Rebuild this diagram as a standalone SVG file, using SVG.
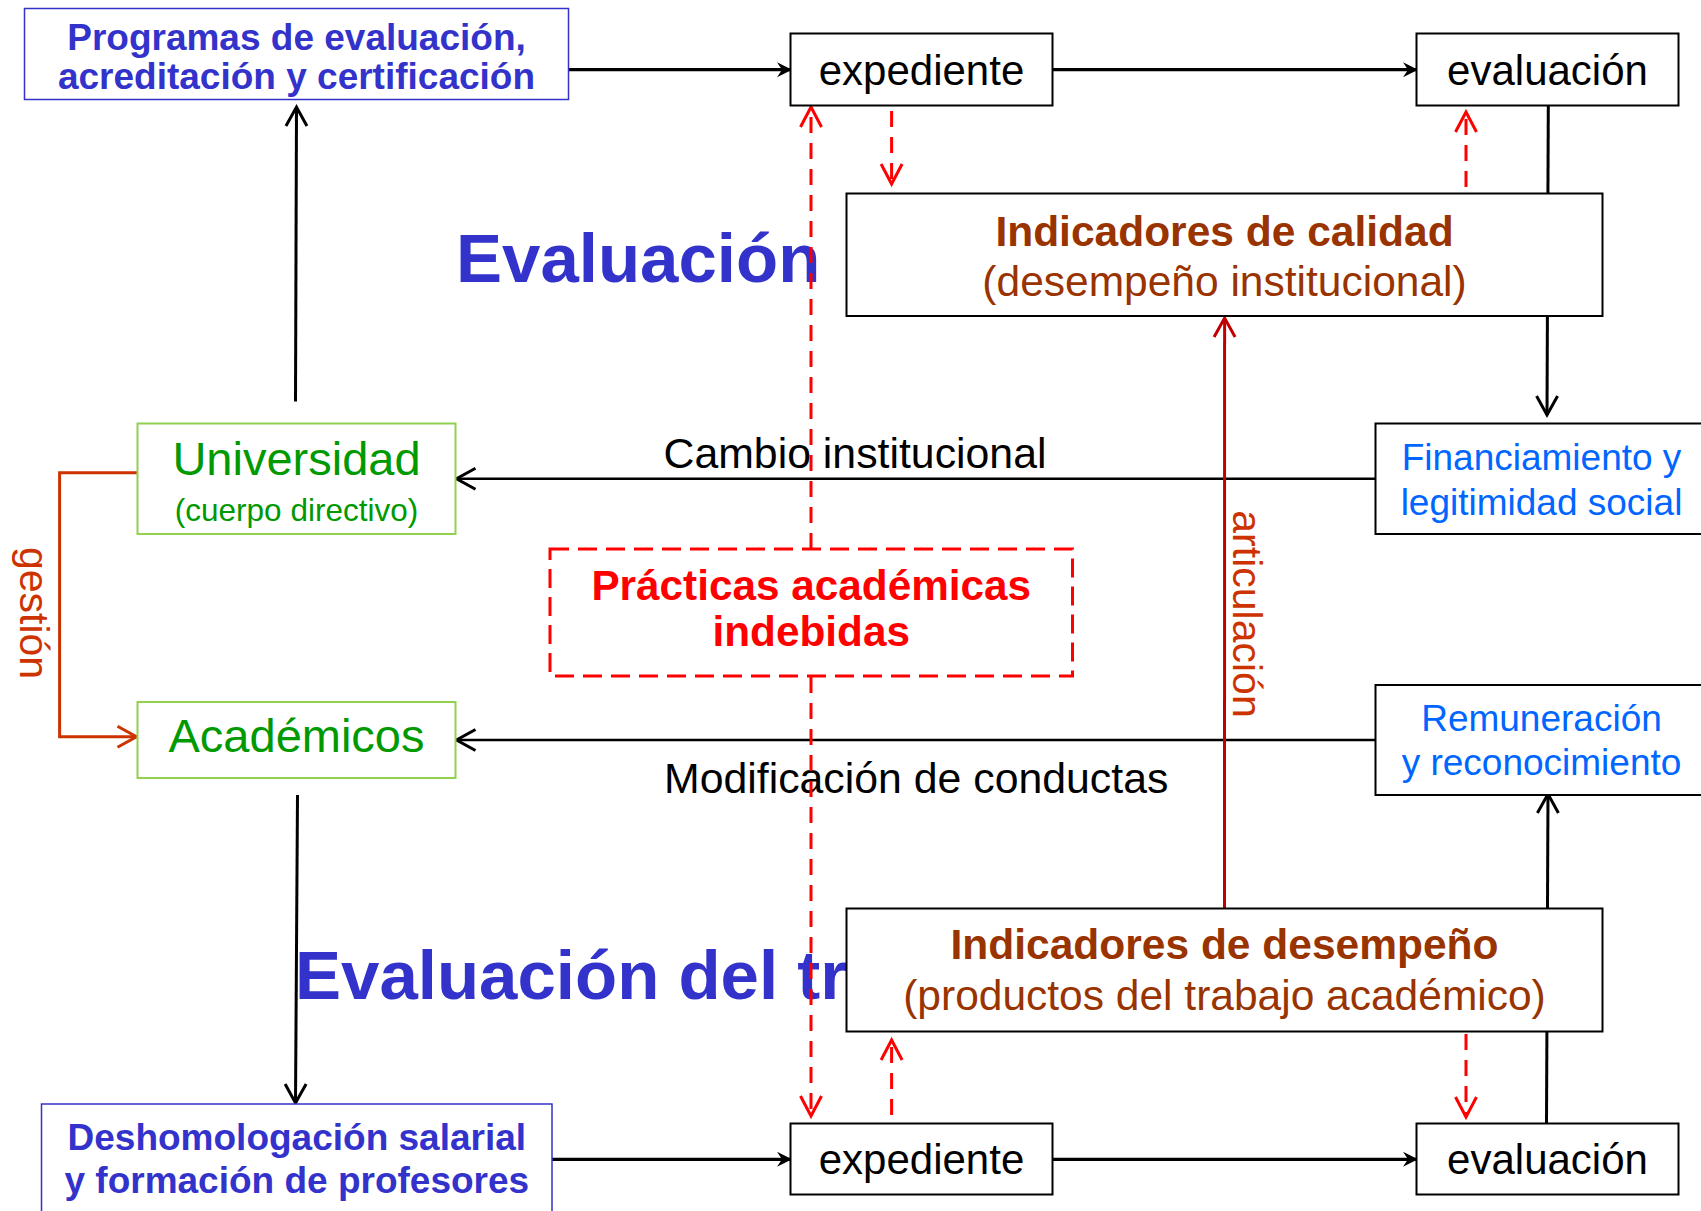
<svg xmlns="http://www.w3.org/2000/svg" width="1701" height="1211" viewBox="0 0 1701 1211">
<style>
text{font-family:"Liberation Sans",Arial,sans-serif;}
.box{fill:#fff;stroke:#000;stroke-width:2;}
.bluebox{fill:#fff;stroke:#3333CC;stroke-width:1.5;}
.greenbox{fill:#fff;stroke:#92D050;stroke-width:2;}
.blk{font-size:42px;fill:#000;text-anchor:middle;}
.ttl{font-size:37px;font-weight:bold;fill:#3333CC;text-anchor:middle;}
.big{font-size:69px;font-weight:bold;fill:#3333CC;}
.ind1{font-size:42.5px;font-weight:bold;fill:#993300;text-anchor:middle;}
.ind2{font-size:42.5px;fill:#993300;text-anchor:middle;}
.bl{font-size:37px;fill:#0066FF;text-anchor:middle;}
.gr{fill:#009900;text-anchor:middle;}
.lbl{font-size:42.8px;fill:#000;}
.rot{font-size:41px;fill:#CC3300;text-anchor:middle;}
.thick{stroke:#000;stroke-width:3.3;fill:none;}
.thin{stroke:#000;stroke-width:2.5;fill:none;}
.vert{stroke:#000;stroke-width:3;fill:none;}
.rdash{stroke:#FF0000;stroke-width:3;fill:none;stroke-dasharray:16 10;}
</style>
<defs>
<marker id="stealth" markerUnits="userSpaceOnUse" markerWidth="40" markerHeight="40" refX="0" refY="0" orient="auto" overflow="visible">
<path d="M0,0 L-15,-7.5 L-10,0 L-15,7.5 Z" fill="#000"/>
</marker>
<marker id="openK" markerUnits="userSpaceOnUse" markerWidth="40" markerHeight="40" refX="0" refY="0" orient="auto" overflow="visible">
<path d="M-19,-10.5 L0,0 L-19,10.5" fill="none" stroke="#000" stroke-width="3"/>
</marker>
<marker id="openR" markerUnits="userSpaceOnUse" markerWidth="40" markerHeight="40" refX="0" refY="0" orient="auto" overflow="visible">
<path d="M-20,-10.5 L0,0 L-20,10.5" fill="none" stroke="#FF0000" stroke-width="3"/>
</marker>
<marker id="openDR" markerUnits="userSpaceOnUse" markerWidth="40" markerHeight="40" refX="0" refY="0" orient="auto" overflow="visible">
<path d="M-19,-10.5 L0,0 L-19,10.5" fill="none" stroke="#C00000" stroke-width="3"/>
</marker>
<marker id="openO" markerUnits="userSpaceOnUse" markerWidth="40" markerHeight="40" refX="0" refY="0" orient="auto" overflow="visible">
<path d="M-19,-10.5 L0,0 L-19,10.5" fill="none" stroke="#CC3300" stroke-width="3"/>
</marker>
</defs>
<rect width="1701" height="1211" fill="#fff"/>

<g id="titles">
<text class="big" x="456" y="282">Evaluación</text>
<text class="big" x="295" y="999">Evaluación del tr</text>
</g>

<g id="connectors">
<text class="lbl" x="663.5" y="468">Cambio institucional</text>
<text class="lbl" x="664" y="793">Modificación de conductas</text>
<text class="rot" transform="translate(20,613) rotate(90)">gestión</text>
<text class="rot" font-size="43" transform="translate(1233,614) rotate(90)">articulación</text>

<line class="thick" x1="568.5" y1="69.7" x2="792" y2="69.7" marker-end="url(#stealth)"/>
<line class="thick" x1="1052.5" y1="69.7" x2="1418" y2="69.7" marker-end="url(#stealth)"/>
<line class="thick" x1="552" y1="1159.3" x2="792" y2="1159.3" marker-end="url(#stealth)"/>
<line class="thick" x1="1052.5" y1="1159.3" x2="1418" y2="1159.3" marker-end="url(#stealth)"/>

<line class="vert" x1="295.5" y1="401.5" x2="296.5" y2="107" marker-end="url(#openK)"/>
<line class="vert" x1="297.5" y1="795" x2="295.5" y2="1103" marker-end="url(#openK)"/>
<line class="vert" x1="1548.3" y1="105.5" x2="1547" y2="415" marker-end="url(#openK)"/>
<line class="vert" x1="1546.5" y1="1123.5" x2="1548" y2="794" marker-end="url(#openK)"/>

<line class="thin" x1="1375.5" y1="478.7" x2="456.5" y2="478.7" marker-end="url(#openK)"/>
<line class="thin" x1="1375.5" y1="740" x2="456.5" y2="740" marker-end="url(#openK)"/>

<polyline points="137.7,472.7 59.6,472.7 59.6,736.7 136.5,736.7" fill="none" stroke="#CC3300" stroke-width="3" marker-end="url(#openO)"/>
<line x1="1224.5" y1="908.5" x2="1224.6" y2="318" stroke="#C00000" stroke-width="3" marker-end="url(#openDR)"/>

<line class="rdash" x1="811" y1="549" x2="811" y2="107" marker-end="url(#openR)"/>
<line class="rdash" x1="811" y1="677" x2="811" y2="1116" marker-end="url(#openR)"/>
<line class="rdash" x1="891.6" y1="111" x2="891.6" y2="184" marker-end="url(#openR)"/>
<line class="rdash" x1="1466" y1="187" x2="1466" y2="112" marker-end="url(#openR)"/>
<line class="rdash" x1="891.6" y1="1115" x2="891.6" y2="1040" marker-end="url(#openR)"/>
<line class="rdash" x1="1466" y1="1034" x2="1466" y2="1117" marker-end="url(#openR)"/>
</g>

<g id="programas">
<rect class="bluebox" x="24.5" y="8.5" width="544" height="91"/>
<text class="ttl" x="296.5" y="50">Programas de evaluación,</text>
<text class="ttl" x="296.5" y="89">acreditación y certificación</text>
</g>
<g id="expediente-top">
<rect class="box" x="790.5" y="33.5" width="262" height="72"/>
<text class="blk" x="921.5" y="85">expediente</text>
</g>
<g id="evaluacion-top">
<rect class="box" x="1416.5" y="33.5" width="262" height="72"/>
<text class="blk" x="1547.5" y="85">evaluación</text>
</g>
<g id="indicadores-calidad">
<rect class="box" x="846.5" y="193.5" width="756" height="122.5"/>
<text class="ind1" x="1224.5" y="246">Indicadores de calidad</text>
<text class="ind2" x="1224.5" y="296">(desempeño institucional)</text>
</g>
<g id="universidad">
<rect class="greenbox" x="137.5" y="423.5" width="318" height="110.5"/>
<text class="gr" font-size="47" x="296.5" y="475">Universidad</text>
<text class="gr" font-size="31.5" x="296.5" y="521">(cuerpo directivo)</text>
</g>
<g id="financiamiento">
<rect class="box" x="1375.5" y="423.5" width="332" height="110.5"/>
<text class="bl" x="1541.5" y="470">Financiamiento y</text>
<text class="bl" x="1541.5" y="515">legitimidad social</text>
</g>
<g id="practicas">
<rect x="550" y="549" width="522.5" height="127" fill="none" stroke="#FF0000" stroke-width="3" stroke-dasharray="19 9"/>
<text x="811.25" y="600" font-size="42.3" font-weight="bold" fill="#FF0000" text-anchor="middle">Prácticas académicas</text>
<text x="811.25" y="646" font-size="42.3" font-weight="bold" fill="#FF0000" text-anchor="middle">indebidas</text>
</g>
<g id="academicos">
<rect class="greenbox" x="137.5" y="702" width="318" height="76"/>
<text class="gr" font-size="47" x="296.5" y="752">Académicos</text>
</g>
<g id="remuneracion">
<rect class="box" x="1375.5" y="685" width="332" height="110"/>
<text class="bl" x="1541.5" y="731">Remuneración</text>
<text class="bl" x="1541.5" y="775">y reconocimiento</text>
</g>
<g id="indicadores-desempeno">
<rect class="box" x="846.5" y="908.5" width="756" height="123"/>
<text class="ind1" x="1224.5" y="959">Indicadores de desempeño</text>
<text class="ind2" x="1224.5" y="1010">(productos del trabajo académico)</text>
</g>
<g id="deshomologacion">
<rect class="bluebox" x="41.5" y="1104" width="510.5" height="130"/>
<text class="ttl" x="296.8" y="1150">Deshomologación salarial</text>
<text class="ttl" x="296.8" y="1193">y formación de profesores</text>
</g>
<g id="expediente-bottom">
<rect class="box" x="790.5" y="1123.5" width="262" height="71"/>
<text class="blk" x="921.5" y="1174">expediente</text>
</g>
<g id="evaluacion-bottom">
<rect class="box" x="1416.5" y="1123.5" width="262" height="71"/>
<text class="blk" x="1547.5" y="1174">evaluación</text>
</g>
</svg>
